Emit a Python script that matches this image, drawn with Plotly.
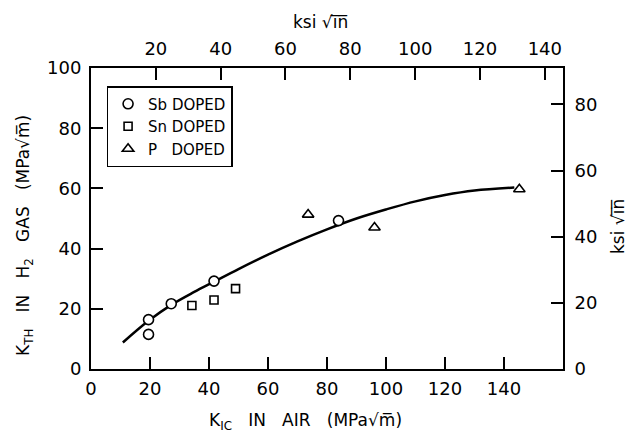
import plotly.graph_objects as go

# --- data (MPa*sqrt(m)) ---
sb_x = [19.5, 19.5, 27.2, 41.7, 83.9]
sb_y = [16.4, 11.5, 21.7, 29.2, 49.3]

sn_x = [34.2, 41.7, 49.0]
sn_y = [21.1, 22.9, 26.7]

p_x = [73.6, 96.1, 145.2]
p_y = [51.3, 47.0, 59.7]

fit_x = [10.8, 19.5, 27.2, 35.0, 41.7, 50.0, 60.0, 70.0, 80.0, 90.0, 100.0, 110.0, 120.0, 130.0, 143.5]
fit_y = [8.8, 16.0, 21.3, 25.6, 29.0, 33.2, 38.0, 42.4, 46.4, 50.0, 53.0, 55.7, 57.8, 59.3, 60.3]

x_ticks = [0, 20, 40, 60, 80, 100, 120, 140]
y_ticks = [0, 20, 40, 60, 80, 100]
ksi_ticks_top = [20, 40, 60, 80, 100, 120, 140]
ksi_ticks_right = [0, 20, 40, 60, 80]

MPA_PER_KSI = 1.0988
X_MAX = 160
Y_MAX = 100

FONT = "DejaVu Sans"
TICKFONT = dict(family=FONT, size=18, color="black")
NB = "\u00a0"

fig = go.Figure()

fig.add_trace(go.Scatter(x=fit_x, y=fit_y, mode="lines", line=dict(color="black", width=2.5, shape="spline"),
                         showlegend=False, hoverinfo="skip"))

mk = dict(color="white", line=dict(color="black", width=1.6))
fig.add_trace(go.Scatter(x=sb_x, y=sb_y, mode="markers", name="Sb" + NB + "DOPED",
                         marker=dict(symbol="circle", size=10, **mk)))
fig.add_trace(go.Scatter(x=sn_x, y=sn_y, mode="markers", name="Sn" + NB + "DOPED",
                         marker=dict(symbol="square", size=8, **mk)))
fig.add_trace(go.Scatter(x=p_x, y=p_y, mode="markers", name="P" + NB * 3 + "DOPED",
                         marker=dict(symbol="triangle-up", size=10, **mk)))

# invisible traces to activate the secondary (ksi) axes
fig.add_trace(go.Scatter(x=[0], y=[0], xaxis="x2", yaxis="y", mode="markers", marker=dict(opacity=0),
                         showlegend=False, hoverinfo="skip"))
fig.add_trace(go.Scatter(x=[0], y=[0], xaxis="x", yaxis="y2", mode="markers", marker=dict(opacity=0),
                         showlegend=False, hoverinfo="skip"))

axis_common = dict(showgrid=False, zeroline=False, showline=True, linecolor="black", linewidth=2,
                   ticks="inside", ticklen=12, tickwidth=1.5, tickcolor="black", tickfont=TICKFONT)

fig.update_layout(
    width=637, height=434,
    margin=dict(l=91, r=74, t=68, b=65),
    paper_bgcolor="white", plot_bgcolor="white",
    xaxis=dict(range=[0, X_MAX], tickvals=x_ticks, ticklabelstandoff=2, **axis_common),
    xaxis2=dict(range=[0, X_MAX / MPA_PER_KSI], tickvals=ksi_ticks_top, overlaying="x", side="top",
                anchor="y", ticklabelstandoff=4, **axis_common),
    yaxis=dict(range=[0, Y_MAX], tickvals=y_ticks, ticklabelstandoff=4, **axis_common),
    yaxis2=dict(range=[0, Y_MAX / MPA_PER_KSI], tickvals=ksi_ticks_right, overlaying="y", side="right",
                anchor="x", ticklabelstandoff=6, **axis_common),
    legend=dict(x=0.033, y=0.94, xanchor="left", yanchor="top", bordercolor="black", borderwidth=1.5,
                bgcolor="white", font=dict(family=FONT, size=15, color="black"),
                tracegroupgap=0, itemwidth=30),
    showlegend=True,
)

TITLEFONT = dict(family=FONT, size=17, color="black")
sp = NB * 3
fig.add_annotation(text="K<sub>IC</sub>" + sp + "IN" + sp + "AIR" + sp + "(MPa\u221am\u0305)",
                   xref="paper", yref="paper",
                   x=(305 - 91) / 472, y=-(421 - 369) / 301, showarrow=False, font=TITLEFONT,
                   xanchor="center", yanchor="middle")
fig.add_annotation(text="K<sub>TH</sub>" + sp + "IN" + sp + "H<sub>2</sub>" + sp + "GAS" + sp + "(MPa\u221am\u0305)",
                   xref="paper", yref="paper",
                   x=-(91 - 24) / 472, y=(369 - 236) / 301, showarrow=False, font=TITLEFONT, textangle=-90,
                   xanchor="center", yanchor="middle")
fig.add_annotation(text="ksi " + "\u221ai\u0305n\u0305", xref="paper", yref="paper",
                   x=(320 - 91) / 472, y=(369 - 22) / 301, showarrow=False, font=TITLEFONT,
                   xanchor="center", yanchor="middle")
fig.add_annotation(text="ksi " + "\u221ai\u0305n\u0305", xref="paper", yref="paper",
                   x=(618 - 91) / 472, y=(369 - 227) / 301, showarrow=False, font=TITLEFONT, textangle=-90,
                   xanchor="center", yanchor="middle")

fig.write_html("out.html")
